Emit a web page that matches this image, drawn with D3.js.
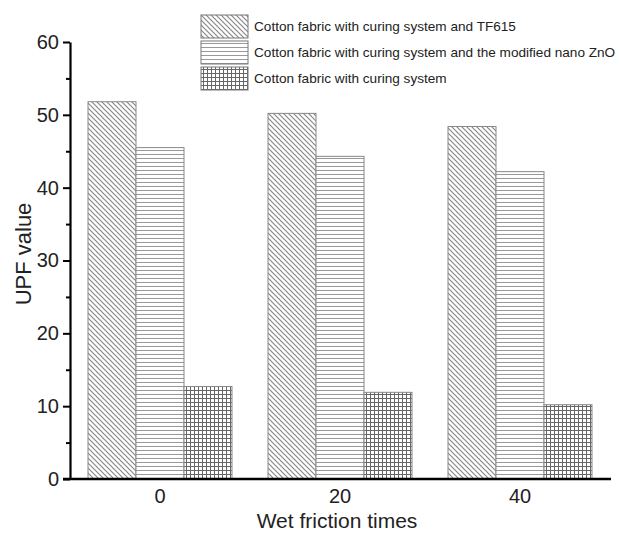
<!DOCTYPE html>
<html>
<head>
<meta charset="utf-8">
<style>
    body { margin: 0; background: #fff; }
    svg { display: block; font-family: "Liberation Sans", Arial, sans-serif; }
    .axis text { fill: #222; }
</style>
</head>
<body>
<svg width="620" height="533"></svg>
<script src="https://d3js.org/d3.v7.min.js"></script>
<script>
    // data
    var categories = ["0", "20", "40"];
    var seriesNames = [
        "Cotton fabric with curing system and TF615",
        "Cotton fabric with curing system and the modified nano ZnO",
        "Cotton fabric with curing system"
    ];
    var tf615 = [51.8, 50.2, 48.4];
    var nanoZnO = [45.5, 44.3, 42.2];
    var curingOnly = [12.7, 11.9, 10.2];
    var yTicks = [0, 10, 20, 30, 40, 50, 60];
    var yMinorTicks = [5, 15, 25, 35, 45, 55];

    var series = [tf615, nanoZnO, curingOnly];
    var patterns = ["diag", "horiz", "grid"];

    var svg = d3.select("svg");

    // hatch patterns
    var defs = svg.append("defs");
    var p1 = defs.append("pattern").attr("id", "diag")
        .attr("patternUnits", "userSpaceOnUse").attr("width", 5).attr("height", 5);
    p1.append("rect").attr("width", 5).attr("height", 5).attr("fill", "#fff");
    p1.append("path").attr("d", "M0,0 L5,5 M-1,4 L1,6 M4,-1 L6,1")
        .attr("stroke", "#888").attr("stroke-width", 1.2);

    var p2 = defs.append("pattern").attr("id", "horiz")
        .attr("patternUnits", "userSpaceOnUse").attr("width", 4).attr("height", 4);
    p2.append("rect").attr("width", 4).attr("height", 4).attr("fill", "#fff");
    p2.append("path").attr("d", "M0,2.5 L4,2.5")
        .attr("stroke", "#999").attr("stroke-width", 1);

    var p3 = defs.append("pattern").attr("id", "grid")
        .attr("patternUnits", "userSpaceOnUse").attr("width", 4).attr("height", 4);
    p3.append("rect").attr("width", 4).attr("height", 4).attr("fill", "#fff");
    p3.append("path").attr("d", "M0,2.5 L4,2.5 M2.5,0 L2.5,4")
        .attr("stroke", "#666").attr("stroke-width", 1);

    var x = d3.scaleBand()
        .domain(categories)
        .range([70, 610])
        .paddingInner(0.2)
        .paddingOuter(0.1);

    var x1 = d3.scaleBand()
        .domain(d3.range(series.length))
        .range([0, x.bandwidth()]);

    var y = d3.scaleLinear()
        .domain([0, 60])
        .range([479, 42]);

    // bars
    var groups = svg.append("g").selectAll("g")
        .data(series)
        .enter().append("g")
        .attr("fill", function(d, i) { return "url(#" + patterns[i] + ")"; });

    groups.selectAll("rect")
        .data(function(d, i) { return d.map(function(v, j) { return {s: i, c: categories[j], v: v}; }); })
        .enter().append("rect")
        .attr("x", function(d) { return x(d.c) + x1(d.s); })
        .attr("y", function(d) { return y(d.v); })
        .attr("width", x1.bandwidth())
        .attr("height", function(d) { return y(0) - y(d.v); })
        .attr("stroke", "#888")
        .attr("stroke-width", 1);

    // y axis
    svg.append("g")
        .attr("class", "axis")
        .attr("transform", "translate(70,0)")
        .call(d3.axisLeft(y).tickValues(yMinorTicks).tickSize(4).tickFormat(""))
        .call(function(g) { g.select(".domain").remove(); })
        .selectAll("line").attr("stroke-width", 2).attr("stroke", "#000");

    var yAxis = svg.append("g")
        .attr("class", "axis")
        .attr("transform", "translate(70,0)")
        .call(d3.axisLeft(y).tickValues(yTicks).tickSize(7).tickSizeOuter(0).tickPadding(4));
    yAxis.select(".domain").attr("stroke-width", 2.2).attr("stroke", "#000");
    yAxis.selectAll(".tick line").attr("stroke-width", 2).attr("stroke", "#000");
    yAxis.selectAll("text").attr("font-size", 20);

    // x axis
    var xAxis = svg.append("g")
        .attr("class", "axis")
        .attr("transform", "translate(0,479)")
        .call(d3.axisBottom(x).tickSize(0).tickPadding(10));
    xAxis.select(".domain").attr("d", "M63,0H611").attr("stroke-width", 2.4).attr("stroke", "#000");
    xAxis.selectAll("text").attr("font-size", 20);

    // axis titles
    svg.append("text")
        .attr("x", 337)
        .attr("y", 528)
        .attr("text-anchor", "middle")
        .attr("font-size", 21)
        .attr("fill", "#222")
        .text("Wet friction times");

    svg.append("text")
        .attr("transform", "translate(31,254) rotate(-90)")
        .attr("text-anchor", "middle")
        .attr("font-size", 22)
        .attr("fill", "#222")
        .text("UPF value");

    // legend
    var legend = svg.append("g")
        .selectAll("g")
        .data(seriesNames)
        .enter().append("g")
        .attr("transform", function(d, i) { return "translate(201," + (15 + i * 26) + ")"; });

    legend.append("rect")
        .attr("width", 47)
        .attr("height", 23)
        .attr("fill", function(d, i) { return "url(#" + patterns[i] + ")"; })
        .attr("stroke", "#777");

    legend.append("text")
        .attr("x", 53)
        .attr("y", 11.5)
        .attr("dy", "0.35em")
        .attr("font-size", 13.6)
        .attr("fill", "#222")
        .text(function(d) { return d; });
</script>
</body>
</html>
